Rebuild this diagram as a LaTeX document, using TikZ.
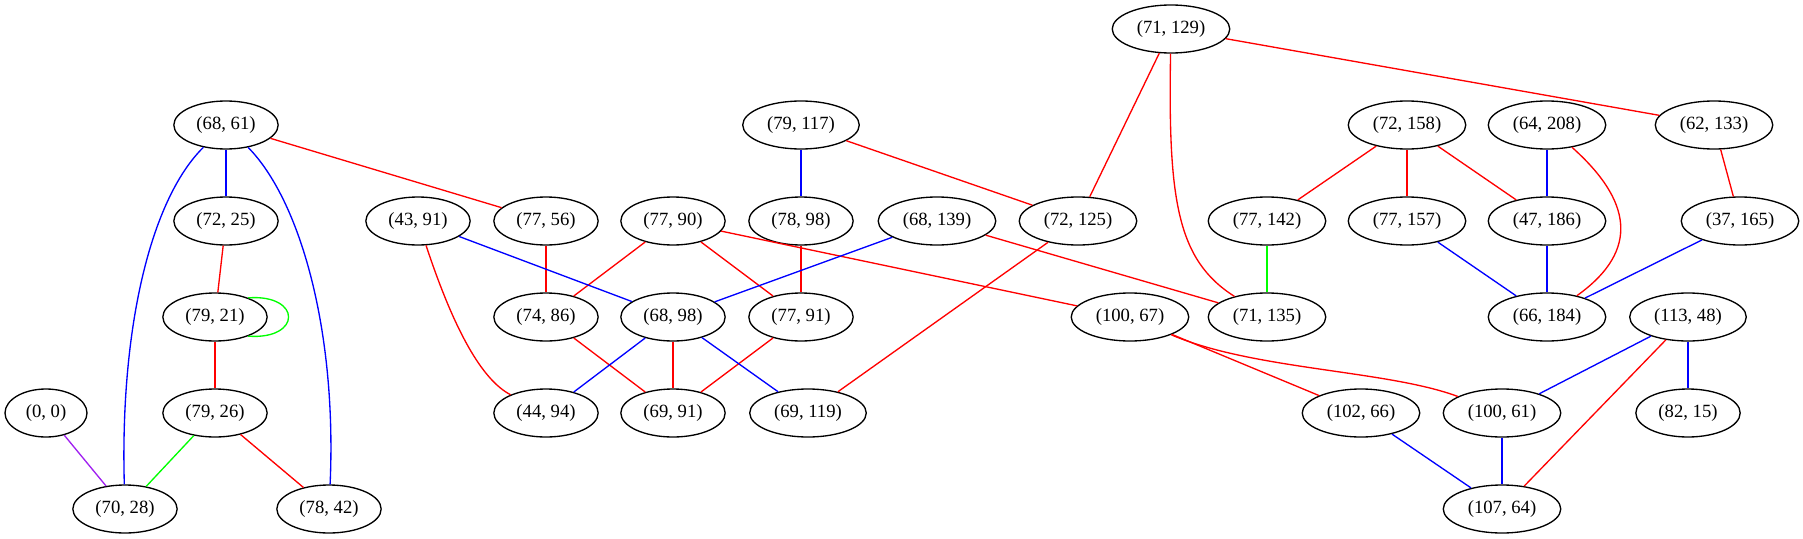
\documentclass[tikz,border=0pt]{standalone}
\usepackage{fontspec}
\setmainfont{Liberation Serif}
\usetikzlibrary{positioning,shapes.geometric}
\definecolor{gvpurple}{HTML}{A020F0}
\definecolor{gvgreen}{HTML}{00FF00}
\definecolor{gvred}{HTML}{FF0000}
\definecolor{gvblue}{HTML}{0000FF}

\begin{document}
\begin{tikzpicture}[x=0.75pt,y=-0.75pt,
    pair/.style={draw,ellipse,line width=1pt,minimum width=61.5pt,minimum height=36pt,
        inner xsep=5.5pt,inner ysep=0pt,font=\fontsize{14}{16}\selectfont},
    every path/.style={line width=1pt}]
            \useasboundingbox (0,0) rectangle (1803,539);

            % row 1
            \node[pair] (v71-129) at (1171,29) {(71, 129)};
            % row 2
            \node[pair] (v68-61) at (226,125) {(68, 61)};
            \node[pair] (v79-117) at (801,125) {(79, 117)};
            \node[pair] (v72-158) at (1407,125) {(72, 158)};
            \node[pair] (v64-208) at (1547,125) {(64, 208)};
            \node[pair] (v62-133) at (1714,125) {(62, 133)};
            % row 3
            \node[pair] (v72-25) at (226,221) {(72, 25)};
            \node[pair] (v43-91) at (418,221) {(43, 91)};
            \node[pair] (v77-56) at (546,221) {(77, 56)};
            \node[pair] (v77-90) at (673,221) {(77, 90)};
            \node[pair] (v78-98) at (801,221) {(78, 98)};
            \node[pair] (v68-139) at (937,221) {(68, 139)};
            \node[pair] (v72-125) at (1078,221) {(72, 125)};
            \node[pair] (v77-142) at (1267,221) {(77, 142)};
            \node[pair] (v77-157) at (1407,221) {(77, 157)};
            \node[pair] (v47-186) at (1547,221) {(47, 186)};
            \node[pair] (v37-165) at (1740,221) {(37, 165)};
            % row 4
            \node[pair] (v79-21) at (215,317) {(79, 21)};
            \node[pair] (v74-86) at (546,317) {(74, 86)};
            \node[pair] (v68-98) at (673,317) {(68, 98)};
            \node[pair] (v77-91) at (801,317) {(77, 91)};
            \node[pair] (v100-67) at (1130,317) {(100, 67)};
            \node[pair] (v71-135) at (1267,317) {(71, 135)};
            \node[pair] (v66-184) at (1547,317) {(66, 184)};
            \node[pair] (v113-48) at (1688,317) {(113, 48)};
            % row 5
            \node[pair] (v0-0) at (46,413) {(0, 0)};
            \node[pair] (v79-26) at (215,413) {(79, 26)};
            \node[pair] (v44-94) at (546,413) {(44, 94)};
            \node[pair] (v69-91) at (673,413) {(69, 91)};
            \node[pair] (v69-119) at (808,413) {(69, 119)};
            \node[pair] (v102-66) at (1361,413) {(102, 66)};
            \node[pair] (v100-61) at (1502,413) {(100, 61)};
            \node[pair] (v82-15) at (1688,413) {(82, 15)};
            % row 6
            \node[pair] (v70-28) at (125,509) {(70, 28)};
            \node[pair] (v78-42) at (329,509) {(78, 42)};
            \node[pair] (v107-64) at (1502,509) {(107, 64)};

            % straight edges
            \foreach \a/\b in {v68-61/v77-56, v72-25/v79-21, v79-21/v79-26, v79-26/v78-42,
                    v77-56/v74-86, v77-90/v74-86, v77-90/v77-91, v77-90/v100-67,
                    v74-86/v69-91, v68-98/v69-91, v68-139/v71-135, v79-117/v72-125,
                    v78-98/v77-91, v77-91/v69-91, v72-125/v69-119, v71-129/v72-125,
                    v71-129/v62-133, v72-158/v77-142, v72-158/v77-157, v72-158/v47-186,
                    v62-133/v37-165, v100-67/v102-66, v113-48/v107-64}
                \draw[gvred] (\a) -- (\b);
            \foreach \a/\b in {v68-61/v72-25, v43-91/v68-98, v68-98/v44-94, v68-98/v69-119,
                    v68-139/v68-98, v79-117/v78-98, v64-208/v47-186, v77-157/v66-184,
                    v47-186/v66-184, v37-165/v66-184, v113-48/v100-61, v113-48/v82-15,
                    v102-66/v107-64, v100-61/v107-64}
                \draw[gvblue] (\a) -- (\b);
            \foreach \a/\b in {v79-26/v70-28, v77-142/v71-135}
                \draw[gvgreen] (\a) -- (\b);
            \draw[gvpurple] (v0-0) -- (v70-28);

            % curved edges
            \draw[gvblue] (v68-61) .. controls (150,200) and (120,330) .. (v70-28);
            \draw[gvblue] (v68-61) .. controls (300,200) and (337,330) .. (v78-42);
            \draw[gvred] (v43-91) .. controls (454,330) and (482,380) .. (v44-94);
            \draw[gvred] (v71-129) .. controls (1168,200) and (1177,260) .. (v71-135);
            \draw[gvred] (v64-208) .. controls (1631,200) and (1641,250) .. (v66-184);
            \draw[gvred] (v100-67) .. controls (1253,370) and (1387,370) .. (v100-61);
            \draw[gvgreen] (v79-21.30) .. controls (302,294) and (302,340) .. (v79-21.-30);
        \end{tikzpicture}
\end{document}
